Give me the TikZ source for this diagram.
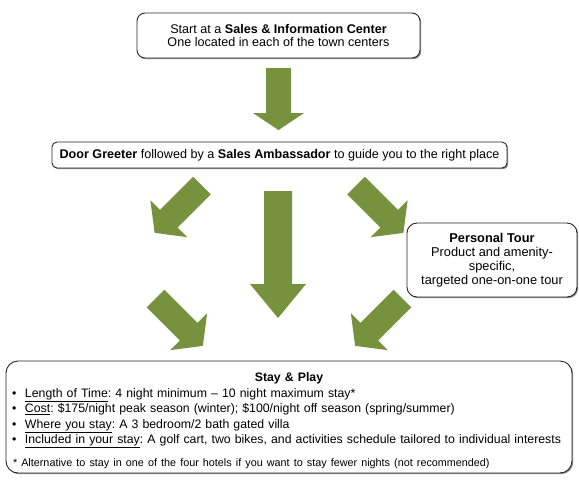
\documentclass[tikz,border=0pt]{standalone}
\usepackage{fontspec}
\setmainfont{Liberation Sans}
\frenchspacing
\usetikzlibrary{shadows,calc}
\definecolor{arrowgreen}{RGB}{118,146,60}
\tikzset{
  box/.style={draw=black!85, line width=0.9pt, rounded corners=8pt, fill=white,
    drop shadow={shadow xshift=1.2pt, shadow yshift=-1.2pt, fill=black!45, opacity=1},
    align=center, inner sep=0pt},
  pics/barrow/.style args={#1/#2/#3/#4}{code={
    \fill[arrowgreen] (0,-#2/2) -- (#1-#4,-#2/2) -- (#1-#4,-#3/2) -- (#1,0)
      -- (#1-#4,#3/2) -- (#1-#4,#2/2) -- (0,#2/2) -- cycle;}}
}
\begin{document}
\begin{tikzpicture}[x=1pt,y=-1pt]
\useasboundingbox (0,0) rectangle (579,488);
\fill[white] (0,0) rectangle (579,488);

\node[box, minimum width=283pt, minimum height=45pt, font=\fontsize{12.6}{13.2}\selectfont] (start) at (278.5,35.5)
  {Start at a \textbf{Sales \& Information Center}\\One located in each of the town centers};

\node[box, rounded corners=5pt, minimum width=455pt, minimum height=26pt, font=\fontsize{12.6}{14}\selectfont] (door) at (279.5,155)
  {\textbf{Door Greeter} followed by a \textbf{Sales Ambassador} to guide you to the right place};

\node[box, rounded corners=10pt, minimum width=170pt, minimum height=74pt, font=\fontsize{12.8}{14}\selectfont] (tour) at (492,260)
  {\textbf{Personal Tour}\\Product and amenity-\\specific,\\targeted one-on-one tour};

\node[box, rounded corners=12pt, minimum width=566pt, minimum height=112pt, text width=558pt, align=left, font=\fontsize{12.3}{15.5}\selectfont] (stay) at (289,417)
  {{\centering\rule{0pt}{16pt}\textbf{Stay \& Play}\par}
   \makebox[15pt][l]{\hspace{2pt}\textbullet}\underline{Length of Time}: 4 night minimum -- 10 night maximum stay*\par
   \makebox[15pt][l]{\hspace{2pt}\textbullet}\underline{Cost}: \$175/night peak season (winter); \$100/night off season (spring/summer)\par
   \makebox[15pt][l]{\hspace{2pt}\textbullet}\underline{Where you stay}: A 3 bedroom/2 bath gated villa\par
   \makebox[15pt][l]{\hspace{2pt}\textbullet}\underline{Included in your stay}: A golf cart, two bikes, and activities schedule tailored to individual interests\par
   \vspace{9pt}
   {\fontsize{10.8}{12}\selectfont \hspace{3pt}* Alternative to stay in one of the four hotels if you want to stay fewer nights (not recommended)\par}};

% block arrows
\pic[rotate=-90] at (278.5,68) {barrow=62/25/51/17};
\pic[rotate=-90] at (278,191) {barrow=127/28/56/34};
\pic[rotate=-135] at (202,185.5) {barrow=67/25/52/20};
\pic[rotate=-45] at (356,185.5) {barrow=67/25/52/20};
\pic[rotate=-45] at (155.5,298.5) {barrow=67/25/52/20};
\pic[rotate=-135] at (402.5,298.5) {barrow=67/25/52/20};
\end{tikzpicture}
\end{document}
